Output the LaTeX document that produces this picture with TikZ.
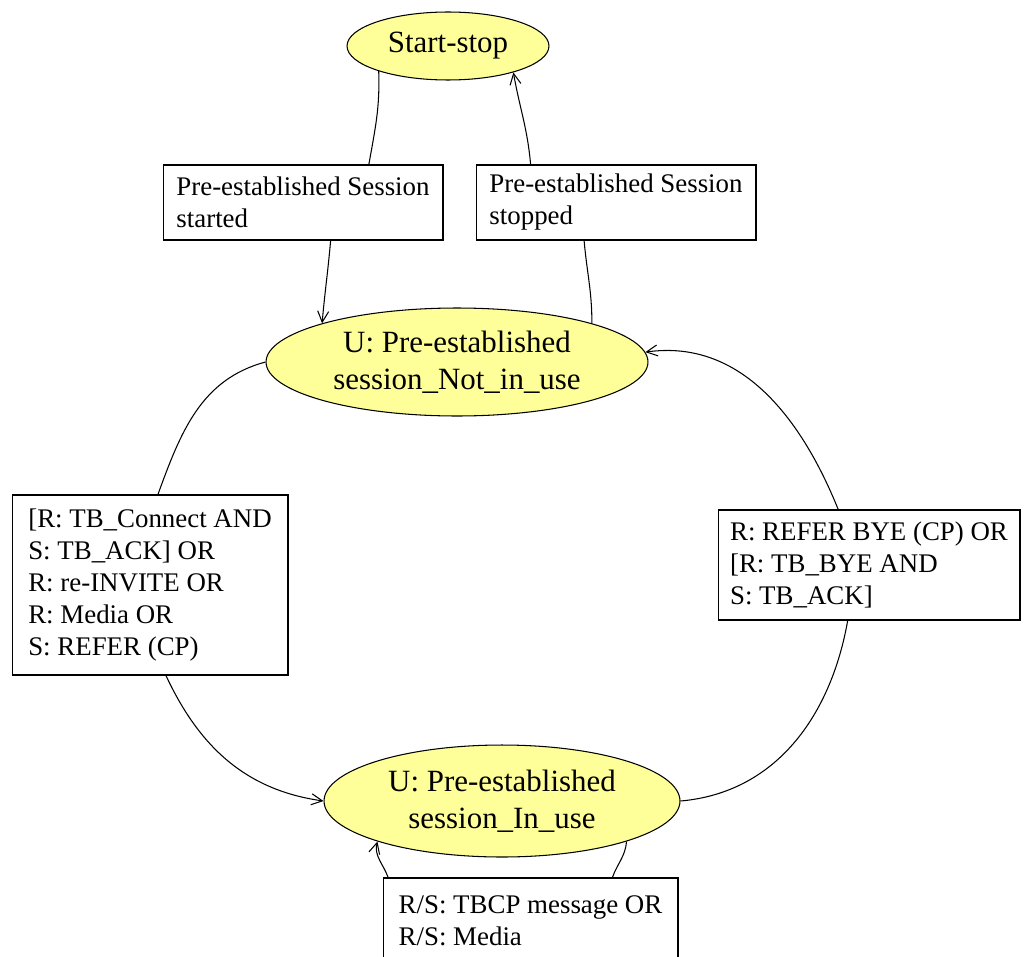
\documentclass[tikz,border=0pt]{standalone}
\usepackage{fontspec}
\setmainfont{Liberation Serif}
\usetikzlibrary{shapes.geometric,arrows.meta}
\definecolor{amarillo}{RGB}{255,255,153}

\begin{document}
\begin{tikzpicture}[x=0.02cm,y=0.02cm,
    estado/.style={ellipse,draw,fill=amarillo,line width=0.6pt,inner sep=0pt,align=center,font=\fontsize{17.6}{21}\selectfont},
    evento/.style={rectangle,draw,line width=0.6pt,inner xsep=0.1cm,inner ysep=0pt,align=left,font=\fontsize{15.3}{18.2}\selectfont},
    linea/.style={line width=0.6pt},
    flecha/.style={line width=0.6pt,-{Straight Barb[length=2.2mm,width=2.2mm]}}]

      \useasboundingbox (0,0) rectangle (1026,-956); % Marco

      % estados
      \node[estado,minimum width=4.04cm,minimum height=1.36cm] (inicio) at (448,-46) {Start-stop};
      \node[estado,minimum width=7.64cm,minimum height=2.16cm] (noUso) at (457,-362) {U: Pre-established\\session\_Not\_in\_use};
      \node[estado,minimum width=7.12cm,minimum height=2.24cm] (enUso) at (502,-801) {U: Pre-established\\session\_In\_use};

      % eventos
      \node[evento,minimum width=5.6cm,minimum height=1.5cm] (evA) at (303,-202.5) {Pre-established Session\\started};
      \node[evento,minimum width=5.6cm,minimum height=1.5cm] (evB) at (616,-202.5) {Pre-established Session\\stopped};
      \node[evento,minimum width=5.52cm,minimum height=3.6cm] (evC) at (150,-585) {[R: TB\_Connect AND\\S: TB\_ACK] OR\\R: re-INVITE OR\\R: Media OR\\S: REFER (CP)};
      \node[evento,minimum width=6.04cm,minimum height=2.2cm] (evD) at (869,-565) {R: REFER BYE (CP) OR\\{[R: TB\_BYE AND}\\S: TB\_ACK]};
      \node[evento,minimum width=5.9cm,minimum height=1.72cm] (evE) at (530.5,-921) {R/S: TBCP message OR\\R/S: Media};

      % transiciones
      \draw[linea] (inicio.200) to[out=-88,in=80] (evA.30); % inicio
      \draw[flecha] (evA.-54) to[out=-95,in=85] (noUso.164);
      \draw[linea] (noUso.16) to[out=90,in=-85] (evB.-130); % parada
      \draw[flecha] (evB.156) to[out=95,in=-80] (inicio.-22);
      \draw[linea] (noUso.180) to[out=195,in=70] (evC.85); % en uso
      \draw[flecha] (evC.-80) to[out=-65,in=172] (enUso.180);
      \draw[linea] (enUso.0) to[out=5,in=-100] (evD.-111); % fin de uso
      \draw[flecha] (evD.119) to[out=112,in=8] (noUso.3);
      \draw[linea] (enUso.-18) to[out=-95,in=70] (evE.28); % bucle
      \draw[flecha] (evE.163) to[out=110,in=-105] (enUso.198);

    \end{tikzpicture}
\end{document}
